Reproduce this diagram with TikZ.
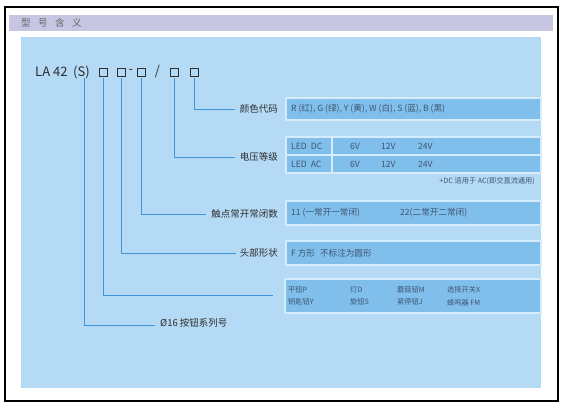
\documentclass[tikz,border=0pt]{standalone}
\usepackage{fontspec}
\newfontfamily\cjk{Noto Sans CJK SC}
\definecolor{panelblue}{HTML}{B4DAF6}
\definecolor{boxblue}{HTML}{80BEEC}
\definecolor{boxedge}{HTML}{D6ECFA}
\definecolor{linkblue}{HTML}{3F95DD}
\definecolor{titleband}{HTML}{C6C6E2}
\definecolor{labeltext}{HTML}{2E2E2E}
\definecolor{valtext}{HTML}{3E5670}
\tikzset{
  lbl/.style={font=\cjk\fontsize{9.5}{11}\selectfont, text=labeltext, inner sep=0pt, anchor=east},
  val/.style={font=\cjk\fontsize{8.6}{10}\selectfont, text=valtext, inner sep=0pt, anchor=west},
  small/.style={font=\cjk\fontsize{7.2}{8.5}\selectfont, text=valtext, inner sep=0pt, anchor=west},
  valbox/.style={fill=boxblue, draw=boxedge, line width=1.2pt},
  sq/.style={draw=labeltext, line width=0.6pt, minimum size=8pt, inner sep=0pt},
  code/.style={font=\cjk\fontsize{13}{15}\selectfont, text=labeltext, inner sep=0pt},
  link/.style={draw=linkblue, line width=0.8pt},
}
\begin{document}
\begin{tikzpicture}[x=1pt,y=-1pt]
\useasboundingbox (0,0) rectangle (566,409);
\fill[white] (0,0) rectangle (566,409);
% title band and panel
\fill[titleband] (9,15) rectangle (553,31);
\node[font=\cjk\fontsize{9.5}{11}\selectfont, text=labeltext!75, anchor=west, inner sep=0pt] (title) at (21,23) {型\hspace{7.5pt}号\hspace{7.5pt}含\hspace{7.5pt}义};
\fill[panelblue] (21,37) rectangle (541,388);
\draw[black, line width=1.3pt] (5,7) rectangle (558,401);

% model code
\node[code, anchor=west] (la) at (35,72) {LA 42};
\node[code, anchor=west] (s) at (73,72) {(S)};
\node[sq] (b1) at (103,72.5) {};
\node[sq] (b2) at (121.5,72.5) {};
\node[code] (dash) at (131,71) {-};
\node[sq] (b3) at (141,72.5) {};
\node[code] (slash) at (157.5,72) {/};
\node[sq] (b4) at (174.5,72.5) {};
\node[sq] (b5) at (194,72.5) {};
\coordinate (sb) at (84,78);

% labels
\node[lbl] (color) at (278,109) {颜色代码};
\node[lbl] (volt) at (278,157) {电压等级};
\node[lbl] (contact) at (278,214) {触点常开常闭数};
\node[lbl] (head) at (278,253) {头部形状};
\node[lbl, anchor=west] (series) at (160,323) {Ø16 按钮系列号};
\coordinate (typeend) at (273,295);

% value boxes
\draw[valbox] (286,98) rectangle (541,120);
\node[val] (colorval) at (291,109) {R (红), G (绿), Y (黄), W (白), S (蓝), B (黑)};

\draw[valbox] (286,137) rectangle (332,155);
\draw[valbox] (332,137) rectangle (541,155);
\draw[valbox] (286,155) rectangle (332,173);
\draw[valbox] (332,155) rectangle (541,173);
\node[val] (ledd) at (291,146) {LED\hspace{4pt}DC};
\node[val] (leda) at (291,164) {LED\hspace{4pt}AC};
\node[val] (d6) at (350,146) {6V};
\node[val] (d12) at (381,146) {12V};
\node[val] (d24) at (418,146) {24V};
\node[val] (a6) at (350,164) {6V};
\node[val] (a12) at (381,164) {12V};
\node[val] (a24) at (418,164) {24V};
\node[font=\cjk\fontsize{7.2}{8.5}\selectfont, text=valtext, inner sep=0pt, anchor=east] (note) at (535,181) {+DC 适用于 AC(即交直流通用)};

\draw[valbox] (286,201) rectangle (541,225);
\node[val] (c11) at (291,213) {11 (一常开一常闭)};
\node[val] (c22) at (400,213) {22(二常开二常闭)};

\draw[valbox] (286,241) rectangle (541,265);
\node[val] (headval) at (291,253) {F 方形\hspace{5pt}不标注为圆形};

\draw[valbox] (285,279) rectangle (541,313);
\node[small] (t1) at (288,290) {平钮P};
\node[small] (t2) at (350,290) {灯D};
\node[small] (t3) at (397,290) {蘑菇钮M};
\node[small] (t4) at (447,290) {选择开关X};
\node[small] (t5) at (288,302) {钥匙钮Y};
\node[small] (t6) at (350,302) {旋钮S};
\node[small] (t7) at (397,302) {紧停钮J};
\node[small] (t8) at (447,303) {蜂鸣器 FM};

% connectors
\draw[link] (sb) |- ([xshift=-5pt,yshift=-2pt]series.west);
\draw[link] ([yshift=-1pt]b1.south) |- (typeend);
\draw[link] ([yshift=-1pt]b2.south) |- ([xshift=-4pt]head.west);
\draw[link] ([yshift=-1pt]b3.south) |- ([xshift=-5pt]contact.west);
\draw[link] ([yshift=-1pt]b4.south) |- ([xshift=-5pt]volt.west);
\draw[link] ([yshift=-1pt]b5.south) |- ([xshift=-5pt]color.west);
\end{tikzpicture}
\end{document}
